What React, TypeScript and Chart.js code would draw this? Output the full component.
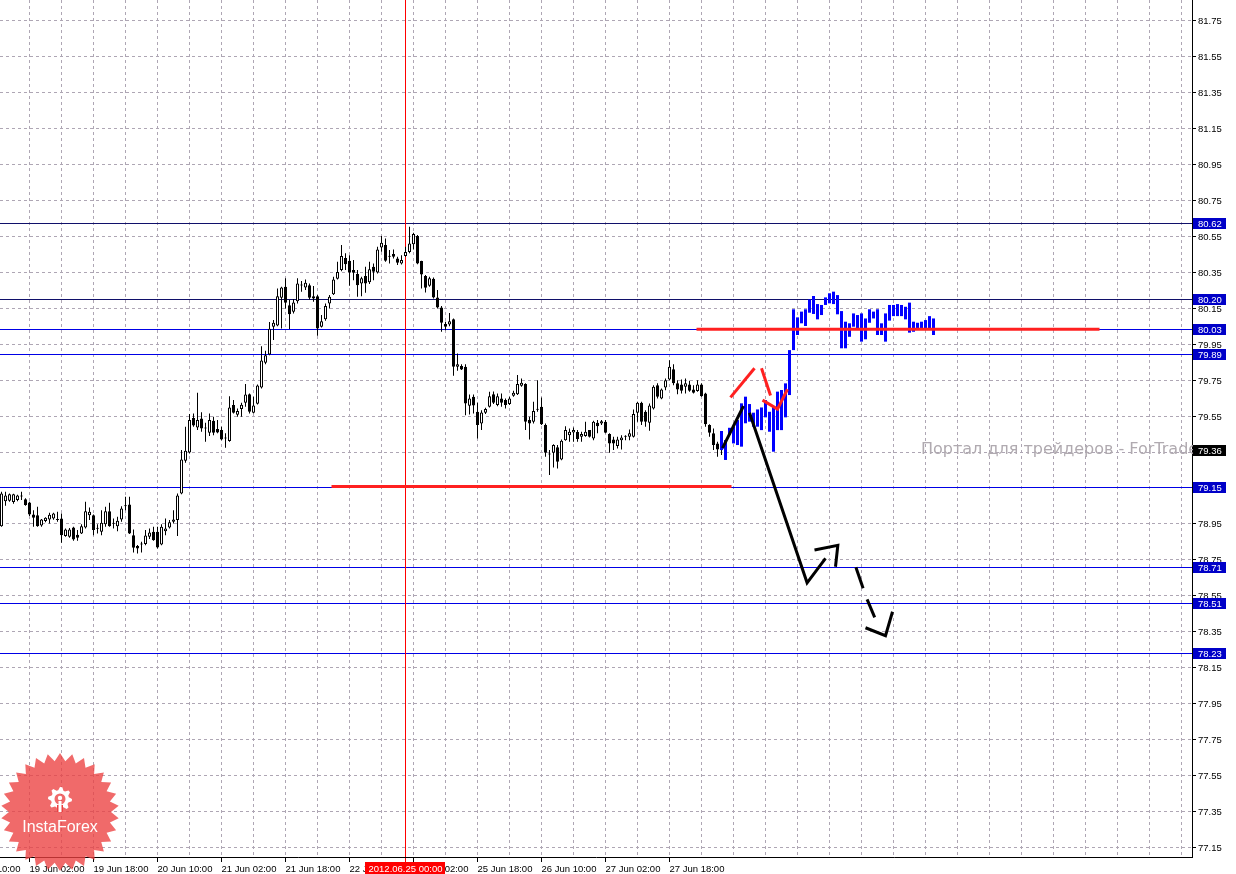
import React, { useEffect, useRef } from 'react';
import { Chart, registerables } from 'chart.js';

Chart.register(...registerables);

// ---- hourly candles (index 0 = 18 Jun 19:00) ----
const OPEN = [
  78.935, 79.074, 79.076, 79.069, 79.080, 79.100, 79.085, 79.067, 79.000, 78.996,
  78.939, 78.963, 78.972, 78.978, 78.970, 78.978, 78.880, 78.876, 78.928, 78.887,
  78.894, 78.928, 78.996, 78.996, 78.922, 78.904, 78.946, 79.018, 78.950, 78.935,
  78.972, 79.046, 79.056, 78.885, 78.824, 78.833, 78.835, 78.876, 78.904, 78.904,
  78.833, 78.907, 78.928, 78.959, 78.969, 79.117, 79.298, 79.345, 79.536, 79.484,
  79.534, 79.480, 79.454, 79.521, 79.475, 79.469, 79.425, 79.408, 79.608, 79.554,
  79.586, 79.621, 79.669, 79.565, 79.615, 79.706, 79.843, 79.890, 80.044, 80.051,
  80.205, 80.266, 80.164, 80.127, 80.185, 80.275, 80.262, 80.275, 80.214, 80.214,
  80.044, 80.085, 80.173, 80.224, 80.311, 80.359, 80.426, 80.411, 80.359, 80.337,
  80.285, 80.326, 80.292, 80.377, 80.346, 80.485, 80.498, 80.435, 80.448, 80.424,
  80.396, 80.437, 80.459, 80.502, 80.548, 80.409, 80.326, 80.272, 80.311, 80.207,
  80.151, 80.059, 80.057, 80.086, 79.821, 79.825, 79.821, 79.604, 79.654, 79.571,
  79.506, 79.565, 79.599, 79.669, 79.608, 79.645, 79.636, 79.614, 79.660, 79.669,
  79.716, 79.725, 79.525, 79.515, 79.586, 79.599, 79.497, 79.334, 79.343, 79.374,
  79.306, 79.413, 79.441, 79.456, 79.458, 79.432, 79.436, 79.469, 79.423, 79.510,
  79.506, 79.515, 79.447, 79.417, 79.380, 79.413, 79.432, 79.432, 79.432, 79.565,
  79.621, 79.571, 79.510, 79.589, 79.719, 79.645, 79.706, 79.751, 79.808, 79.729,
  79.723, 79.710, 79.723, 79.695, 79.686, 79.723, 79.673, 79.497, 79.451, 79.395,
  79.360,
];
const HIGH = [
  79.126, 79.126, 79.117, 79.115, 79.110, 79.126, 79.090, 79.070, 79.024, 79.043,
  78.975, 78.985, 79.009, 79.010, 79.015, 79.005, 78.922, 78.925, 78.931, 78.913,
  78.946, 79.070, 79.039, 79.000, 78.946, 79.024, 79.043, 79.065, 78.978, 78.987,
  79.046, 79.098, 79.098, 78.917, 78.830, 78.848, 78.913, 78.922, 78.931, 78.931,
  78.946, 78.978, 78.969, 79.024, 79.117, 79.358, 79.488, 79.558, 79.562, 79.677,
  79.569, 79.510, 79.562, 79.543, 79.525, 79.488, 79.451, 79.658, 79.636, 79.589,
  79.621, 79.725, 79.673, 79.654, 79.723, 79.936, 79.910, 80.070, 80.081, 80.257,
  80.266, 80.313, 80.192, 80.198, 80.313, 80.298, 80.307, 80.285, 80.270, 80.220,
  80.109, 80.173, 80.220, 80.322, 80.405, 80.498, 80.452, 80.442, 80.415, 80.359,
  80.322, 80.377, 80.405, 80.396, 80.489, 80.548, 80.535, 80.470, 80.474, 80.433,
  80.442, 80.489, 80.600, 80.567, 80.554, 80.411, 80.331, 80.322, 80.318, 80.248,
  80.159, 80.072, 80.120, 80.090, 79.895, 79.836, 79.836, 79.667, 79.667, 79.621,
  79.580, 79.593, 79.682, 79.684, 79.673, 79.673, 79.645, 79.654, 79.688, 79.775,
  79.756, 79.729, 79.543, 79.627, 79.747, 79.651, 79.506, 79.358, 79.391, 79.386,
  79.417, 79.491, 79.478, 79.484, 79.469, 79.460, 79.515, 79.470, 79.521, 79.525,
  79.525, 79.525, 79.451, 79.432, 79.432, 79.441, 79.441, 79.473, 79.584, 79.627,
  79.627, 79.580, 79.617, 79.719, 79.729, 79.701, 79.756, 79.858, 79.836, 79.747,
  79.751, 79.756, 79.743, 79.719, 79.747, 79.729, 79.677, 79.502, 79.478, 79.404,
  79.380,
];
const LOW = [
  78.931, 79.048, 79.070, 79.060, 79.074, 79.080, 79.048, 78.991, 78.931, 78.931,
  78.931, 78.957, 78.950, 78.970, 78.959, 78.842, 78.876, 78.870, 78.854, 78.854,
  78.891, 78.922, 78.969, 78.885, 78.894, 78.885, 78.931, 78.931, 78.922, 78.907,
  78.959, 79.024, 78.891, 78.789, 78.783, 78.789, 78.829, 78.863, 78.854, 78.811,
  78.829, 78.885, 78.922, 78.950, 78.880, 79.113, 79.287, 79.339, 79.488, 79.469,
  79.460, 79.404, 79.436, 79.441, 79.451, 79.413, 79.371, 79.404, 79.562, 79.543,
  79.543, 79.599, 79.562, 79.562, 79.612, 79.701, 79.836, 79.886, 79.970, 80.047,
  80.034, 80.146, 80.031, 80.118, 80.173, 80.238, 80.248, 80.196, 80.183, 79.994,
  80.040, 80.077, 80.146, 80.220, 80.307, 80.353, 80.359, 80.272, 80.303, 80.211,
  80.214, 80.233, 80.281, 80.303, 80.340, 80.461, 80.405, 80.396, 80.424, 80.387,
  80.390, 80.433, 80.452, 80.474, 80.392, 80.257, 80.235, 80.266, 80.201, 80.146,
  80.016, 80.025, 80.047, 79.771, 79.799, 79.803, 79.552, 79.556, 79.562, 79.423,
  79.469, 79.558, 79.595, 79.614, 79.602, 79.599, 79.589, 79.608, 79.654, 79.664,
  79.710, 79.469, 79.417, 79.506, 79.571, 79.497, 79.321, 79.219, 79.261, 79.256,
  79.302, 79.410, 79.404, 79.404, 79.404, 79.404, 79.432, 79.428, 79.413, 79.451,
  79.497, 79.451, 79.343, 79.358, 79.367, 79.361, 79.413, 79.413, 79.428, 79.515,
  79.497, 79.488, 79.465, 79.584, 79.645, 79.640, 79.691, 79.747, 79.719, 79.669,
  79.673, 79.673, 79.682, 79.673, 79.682, 79.654, 79.488, 79.432, 79.358, 79.321,
  79.330,
];
const CLOSE = [
  79.117, 79.106, 79.113, 79.113, 79.106, 79.102, 79.052, 79.000, 78.981, 78.935,
  78.972, 78.981, 78.998, 79.005, 78.969, 78.885, 78.917, 78.917, 78.861, 78.870,
  78.935, 79.018, 79.015, 78.913, 78.920, 78.954, 79.018, 78.935, 78.948, 78.965,
  79.033, 79.048, 78.894, 78.815, 78.811, 78.835, 78.883, 78.900, 78.857, 78.816,
  78.931, 78.922, 78.957, 78.972, 79.106, 79.306, 79.354, 79.525, 79.495, 79.525,
  79.478, 79.478, 79.525, 79.454, 79.456, 79.417, 79.423, 79.595, 79.565, 79.575,
  79.610, 79.667, 79.571, 79.606, 79.717, 79.856, 79.886, 80.033, 80.066, 80.214,
  80.262, 80.177, 80.114, 80.179, 80.285, 80.273, 80.288, 80.205, 80.201, 80.034,
  80.075, 80.159, 80.211, 80.307, 80.348, 80.437, 80.392, 80.346, 80.344, 80.275,
  80.313, 80.285, 80.363, 80.350, 80.474, 80.511, 80.411, 80.433, 80.433, 80.400,
  80.415, 80.459, 80.507, 80.559, 80.396, 80.335, 80.261, 80.313, 80.207, 80.151,
  80.066, 80.044, 80.075, 79.821, 79.836, 79.806, 79.617, 79.645, 79.606, 79.497,
  79.567, 79.586, 79.658, 79.621, 79.658, 79.621, 79.608, 79.645, 79.677, 79.725,
  79.732, 79.515, 79.506, 79.575, 79.582, 79.502, 79.343, 79.336, 79.386, 79.293,
  79.410, 79.469, 79.460, 79.469, 79.419, 79.447, 79.460, 79.432, 79.515, 79.491,
  79.519, 79.454, 79.395, 79.395, 79.417, 79.428, 79.434, 79.451, 79.558, 79.621,
  79.515, 79.515, 79.606, 79.710, 79.654, 79.695, 79.747, 79.821, 79.729, 79.695,
  79.688, 79.729, 79.688, 79.677, 79.723, 79.658, 79.502, 79.454, 79.386, 79.361,
  79.360,
];

// ---- blue projected bars (start at bar index 180) ----
const BLUE_START = 180;
const BLUE_HIGH = [
  79.464, 79.414, 79.482, 79.488, 79.525, 79.618, 79.655, 79.614, 79.566, 79.584,
  79.595, 79.636, 79.571, 79.599, 79.683, 79.692, 79.729, 79.914, 80.141, 80.096,
  80.128, 80.141, 80.196, 80.215, 80.170, 80.165, 80.207, 80.230, 80.239, 80.220,
  80.131, 80.072, 80.063, 80.118, 80.109, 80.118, 80.090, 80.141, 80.128, 80.141,
  80.063, 80.118, 80.165, 80.165, 80.170, 80.165, 80.155, 80.178, 80.072, 80.066,
  80.072, 80.081, 80.103, 80.090,
];
const BLUE_LOW = [
  79.358, 79.303, 79.442, 79.395, 79.386, 79.377, 79.507, 79.516, 79.488, 79.488,
  79.469, 79.540, 79.460, 79.349, 79.469, 79.469, 79.540, 79.664, 79.914, 79.998,
  80.063, 80.048, 80.122, 80.115, 80.085, 80.109, 80.165, 80.174, 80.170, 80.113,
  79.924, 79.924, 79.988, 80.044, 80.026, 79.961, 79.974, 80.066, 80.090, 79.998,
  79.998, 79.961, 80.078, 80.103, 80.103, 80.103, 80.085, 80.011, 80.016, 80.026,
  80.026, 80.026, 80.029, 79.998,
];

// ---- horizontal levels & prices ----
const LEVELS = [80.62, 80.20, 80.03, 79.89, 79.15, 78.71, 78.51, 78.23];
const LEVEL_COLORS = ['#10106a', '#10106a', '#0000e6', '#0000e6', '#0000e6', '#0000e6', '#0000e6', '#0000e6'];
const LAST_PRICE = 79.36;
const Y_TICKS = [
  77.15, 77.35, 77.55, 77.75, 77.95, 78.15, 78.35, 78.55, 78.75, 78.95, 79.15, 79.35,
  79.55, 79.75, 79.95, 80.15, 80.35, 80.55, 80.75, 80.95, 81.15, 81.35, 81.55, 81.75,
];
const Y_MIN = 77.095;
const Y_MAX = 81.861;

// ---- time axis ----
const X_MIN = -0.375;
const X_MAX = 297.625;
const X_LABEL_INDEX = [-9, 7, 23, 39, 55, 71, 87, 103, 119, 135, 151, 167];
const X_LABEL_TEXT = [
  '18 Jun 10:00', '19 Jun 02:00', '19 Jun 18:00', '20 Jun 10:00', '21 Jun 02:00',
  '21 Jun 18:00', '22 Jun 10:00', '25 Jun 02:00', '25 Jun 18:00', '26 Jun 10:00',
  '27 Jun 02:00', '27 Jun 18:00',
];
const GRID_START = 7;
const GRID_STEP = 8;
const CROSS_INDEX = 101;
const CROSS_LABEL = '2012.06.25 00:00';

// ---- drawn objects: [bar index, price] ----
const RED_LEVEL_TOP = [[173.75, 80.03], [274.5, 80.03]];
const RED_LEVEL_BOTTOM = [[82.5, 79.155], [182.5, 79.155]];
const RED_STROKE_1 = [[182.25, 79.651], [188.25, 79.813]];
const RED_STROKE_2 = [[190.0, 79.813], [192.25, 79.662]];
const RED_STROKE_3 = [[190.25, 79.636], [194.0, 79.586], [196.5, 79.696]];
const BLACK_STROKE_1 = [[180.25, 79.369], [185.5, 79.603]];
const BLACK_STROKE_2 = [[187.0, 79.566], [201.4, 78.62], [206.0, 78.756]];
const BLACK_ARROW_1 = [[203.25, 78.802], [209.08, 78.828], [208.5, 78.709]];
const BLACK_DASH_1 = [[213.6, 78.706], [215.4, 78.589]];
const BLACK_DASH_2 = [[216.4, 78.528], [218.3, 78.428]];
const BLACK_ARROW_2 = [[216.0, 78.37], [221.0, 78.326], [222.75, 78.459]];

const WATERMARK = 'Портал для трейдеров - ForTrader.ru';
const LOGO_TEXT = 'InstaForex';

const FONT = '"Liberation Sans", Arial, sans-serif';
const GRID_COLOR = '#aea6b4';

function lineSet(points: number[][], color: string) {
  return {
    type: 'line' as const,
    data: points.map(([x, y]) => ({ x, y })),
    borderColor: color,
    borderWidth: 3,
    pointRadius: 0,
    fill: false,
    tension: 0,
    order: 0,
  };
}

const mt4Plugin = {
  id: 'mt4',
  beforeDraw(chart: any) {
    const { ctx, width, height } = chart;
    ctx.save();
    ctx.fillStyle = '#ffffff';
    ctx.fillRect(0, 0, width, height);
    ctx.restore();
  },
  beforeDatasetsDraw(chart: any) {
    const { ctx, chartArea: a, scales } = chart;
    const x = scales.x;
    const y = scales.y;
    ctx.save();
    ctx.beginPath();
    ctx.rect(a.left, a.top, a.right - a.left, a.bottom - a.top);
    ctx.clip();
    ctx.strokeStyle = GRID_COLOR;
    ctx.lineWidth = 1;
    ctx.setLineDash([3, 3]);
    ctx.beginPath();
    for (let i = GRID_START; ; i += GRID_STEP) {
      const p = x.getPixelForValue(i);
      if (p > a.right) break;
      const xx = Math.floor(p) + 0.5;
      ctx.moveTo(xx, a.top);
      ctx.lineTo(xx, a.bottom);
    }
    for (const v of Y_TICKS) {
      const yy = Math.round(y.getPixelForValue(v)) + 0.5;
      ctx.moveTo(a.left, yy);
      ctx.lineTo(a.right, yy);
    }
    ctx.stroke();
    ctx.setLineDash([]);
    LEVELS.forEach((v, k) => {
      const yy = Math.round(y.getPixelForValue(v)) + 0.5;
      ctx.strokeStyle = LEVEL_COLORS[k];
      ctx.beginPath();
      ctx.moveTo(a.left, yy);
      ctx.lineTo(a.right, yy);
      ctx.stroke();
    });
    ctx.restore();
    // crosshair
    ctx.save();
    const cx = Math.floor(x.getPixelForValue(CROSS_INDEX)) + 0.5;
    ctx.strokeStyle = '#ff0000';
    ctx.lineWidth = 1;
    ctx.beginPath();
    ctx.moveTo(cx, a.top);
    ctx.lineTo(cx, a.bottom + 5);
    ctx.stroke();
    ctx.restore();
  },
  afterDraw(chart: any) {
    const { ctx, chartArea: a, scales } = chart;
    const x = scales.x;
    const y = scales.y;
    ctx.save();
    // axis lines
    ctx.strokeStyle = '#000';
    ctx.lineWidth = 1;
    ctx.beginPath();
    ctx.moveTo(a.right + 0.5, 0);
    ctx.lineTo(a.right + 0.5, a.bottom + 1);
    ctx.moveTo(0, a.bottom + 0.5);
    ctx.lineTo(a.right + 1, a.bottom + 0.5);
    ctx.stroke();

    // y ticks & labels
    ctx.font = `9.5px ${FONT}`;
    ctx.fillStyle = '#000';
    ctx.textBaseline = 'middle';
    ctx.textAlign = 'left';
    ctx.beginPath();
    for (const v of Y_TICKS) {
      const yy = Math.round(y.getPixelForValue(v)) + 0.5;
      ctx.moveTo(a.right + 1, yy);
      ctx.lineTo(a.right + 4, yy);
      ctx.fillText(v.toFixed(2), a.right + 6, yy + 0.5);
    }
    ctx.stroke();

    // x ticks & labels
    ctx.textBaseline = 'alphabetic';
    ctx.beginPath();
    X_LABEL_INDEX.forEach((idx, k) => {
      const xx = Math.floor(x.getPixelForValue(idx)) + 0.5;
      ctx.moveTo(xx, a.bottom + 1);
      ctx.lineTo(xx, a.bottom + 5);
      ctx.fillText(X_LABEL_TEXT[k], xx, a.bottom + 15);
    });
    ctx.stroke();

    // watermark
    ctx.font = `16px "DejaVu Sans", ${FONT}`;
    ctx.fillStyle = '#b0aab0';
    ctx.textBaseline = 'alphabetic';
    ctx.fillText(WATERMARK, 921, y.getPixelForValue(LAST_PRICE) + 4);

    // level boxes
    ctx.font = `9.5px ${FONT}`;
    ctx.textBaseline = 'middle';
    const box = (v: number, bg: string) => {
      const yy = Math.round(y.getPixelForValue(v));
      ctx.fillStyle = bg;
      ctx.fillRect(a.right + 1, yy - 5, 33, 11);
      ctx.fillStyle = '#fff';
      ctx.fillText(v.toFixed(2), a.right + 6, yy + 1);
    };
    LEVELS.forEach((v) => box(v, '#0000c8'));
    box(LAST_PRICE, '#000000');

    // date box for crosshair
    const cx = Math.floor(x.getPixelForValue(CROSS_INDEX)) + 0.5;
    ctx.fillStyle = '#ff0000';
    ctx.fillRect(cx - 40.5, a.bottom + 5, 80, 14);
    ctx.fillStyle = '#fff';
    ctx.textAlign = 'center';
    ctx.textBaseline = 'alphabetic';
    ctx.fillText(CROSS_LABEL, cx, a.bottom + 15);

    // logo
    const lx = 60;
    const ly = 812;
    ctx.beginPath();
    const n = 30;
    for (let k = 0; k < 2 * n; k++) {
      const ang = -Math.PI / 2 + (k * Math.PI) / n;
      const rad = k % 2 === 0 ? 59 : 51;
      const px = lx + rad * Math.cos(ang);
      const py = ly + rad * Math.sin(ang);
      if (k === 0) ctx.moveTo(px, py);
      else ctx.lineTo(px, py);
    }
    ctx.closePath();
    ctx.fillStyle = 'rgba(236,64,64,0.78)';
    ctx.fill();

    // gear
    const gx = 60;
    const gy = 799;
    ctx.beginPath();
    const teeth = 8;
    for (let k = 0; k < teeth * 4; k++) {
      const ang = -Math.PI / 2 + (k * 2 * Math.PI) / (teeth * 4);
      const rad = k % 4 < 2 ? 12 : 9;
      const px = gx + rad * Math.cos(ang);
      const py = gy + rad * Math.sin(ang);
      if (k === 0) ctx.moveTo(px, py);
      else ctx.lineTo(px, py);
    }
    ctx.closePath();
    ctx.moveTo(gx + 5.5, gy);
    ctx.arc(gx, gy, 5.5, 0, Math.PI * 2, true);
    ctx.fillStyle = '#ffffff';
    ctx.fill();
    ctx.fillStyle = 'rgba(236,64,64,1)';
    ctx.fillRect(gx - 3, gy + 6, 6, 7);
    ctx.fillStyle = '#ffffff';
    ctx.beginPath();
    ctx.arc(gx, gy - 1, 2.2, 0, Math.PI * 2);
    ctx.fill();
    ctx.fillRect(gx - 1.5, gy + 2, 3, 11);

    ctx.font = `16px ${FONT}`;
    ctx.textAlign = 'center';
    ctx.textBaseline = 'alphabetic';
    ctx.fillStyle = '#ffffff';
    ctx.fillText(LOGO_TEXT, lx, 832);
    ctx.restore();
  },
};

export default function App() {
  const ref = useRef<HTMLCanvasElement | null>(null);
  useEffect(() => {
    const canvas = ref.current;
    if (!canvas) return;
    const wicks = OPEN.map((_, i) => ({ x: i, y: [LOW[i], HIGH[i]] }));
    const bodies = OPEN.map((o, i) => ({ x: i, y: [Math.min(o, CLOSE[i]), Math.max(o, CLOSE[i])] }));
    const bodyColors = OPEN.map((o, i) => (CLOSE[i] >= o ? '#ffffff' : '#000000'));
    const blue = BLUE_HIGH.map((h, k) => ({ x: BLUE_START + k, y: [BLUE_LOW[k], h] }));
    const chart = new Chart(canvas, {
      type: 'bar',
      data: {
        datasets: [
          {
            type: 'bar',
            data: wicks as any,
            backgroundColor: '#000000',
            borderWidth: 0,
            barThickness: 1,
            grouped: false,
            inflateAmount: 0,
            order: 4,
          },
          {
            type: 'bar',
            data: bodies as any,
            backgroundColor: bodyColors,
            borderColor: '#000000',
            borderWidth: 1,
            borderSkipped: false,
            barThickness: 3,
            minBarLength: 1,
            grouped: false,
            inflateAmount: 0,
            order: 3,
          },
          {
            type: 'bar',
            data: blue as any,
            backgroundColor: '#0000ff',
            borderWidth: 0,
            barThickness: 3,
            grouped: false,
            inflateAmount: 0,
            order: 2,
          },
          lineSet(RED_LEVEL_TOP, '#ff2020'),
          lineSet(RED_LEVEL_BOTTOM, '#ff2020'),
          lineSet(RED_STROKE_1, '#ff2020'),
          lineSet(RED_STROKE_2, '#ff2020'),
          lineSet(RED_STROKE_3, '#ff2020'),
          lineSet(BLACK_STROKE_1, '#000000'),
          lineSet(BLACK_STROKE_2, '#000000'),
          lineSet(BLACK_ARROW_1, '#000000'),
          lineSet(BLACK_DASH_1, '#000000'),
          lineSet(BLACK_DASH_2, '#000000'),
          lineSet(BLACK_ARROW_2, '#000000'),
        ] as any,
      },
      options: {
        responsive: false,
        animation: false,
        devicePixelRatio: 1,
        events: [],
        layout: { padding: { left: 0, top: 0, right: 44, bottom: 17 } },
        plugins: { legend: { display: false }, tooltip: { enabled: false } },
        scales: {
          x: { type: 'linear', min: X_MIN, max: X_MAX, display: false, offset: false },
          y: { type: 'linear', min: Y_MIN, max: Y_MAX, display: false },
        },
      } as any,
      plugins: [mt4Plugin],
    });
    return () => chart.destroy();
  }, []);
  return (
    <div style={{ position: 'absolute', left: 0, top: 0, width: 1236, height: 874 }}>
      <canvas ref={ref} width={1236} height={874} style={{ display: 'block' }} />
    </div>
  );
}
